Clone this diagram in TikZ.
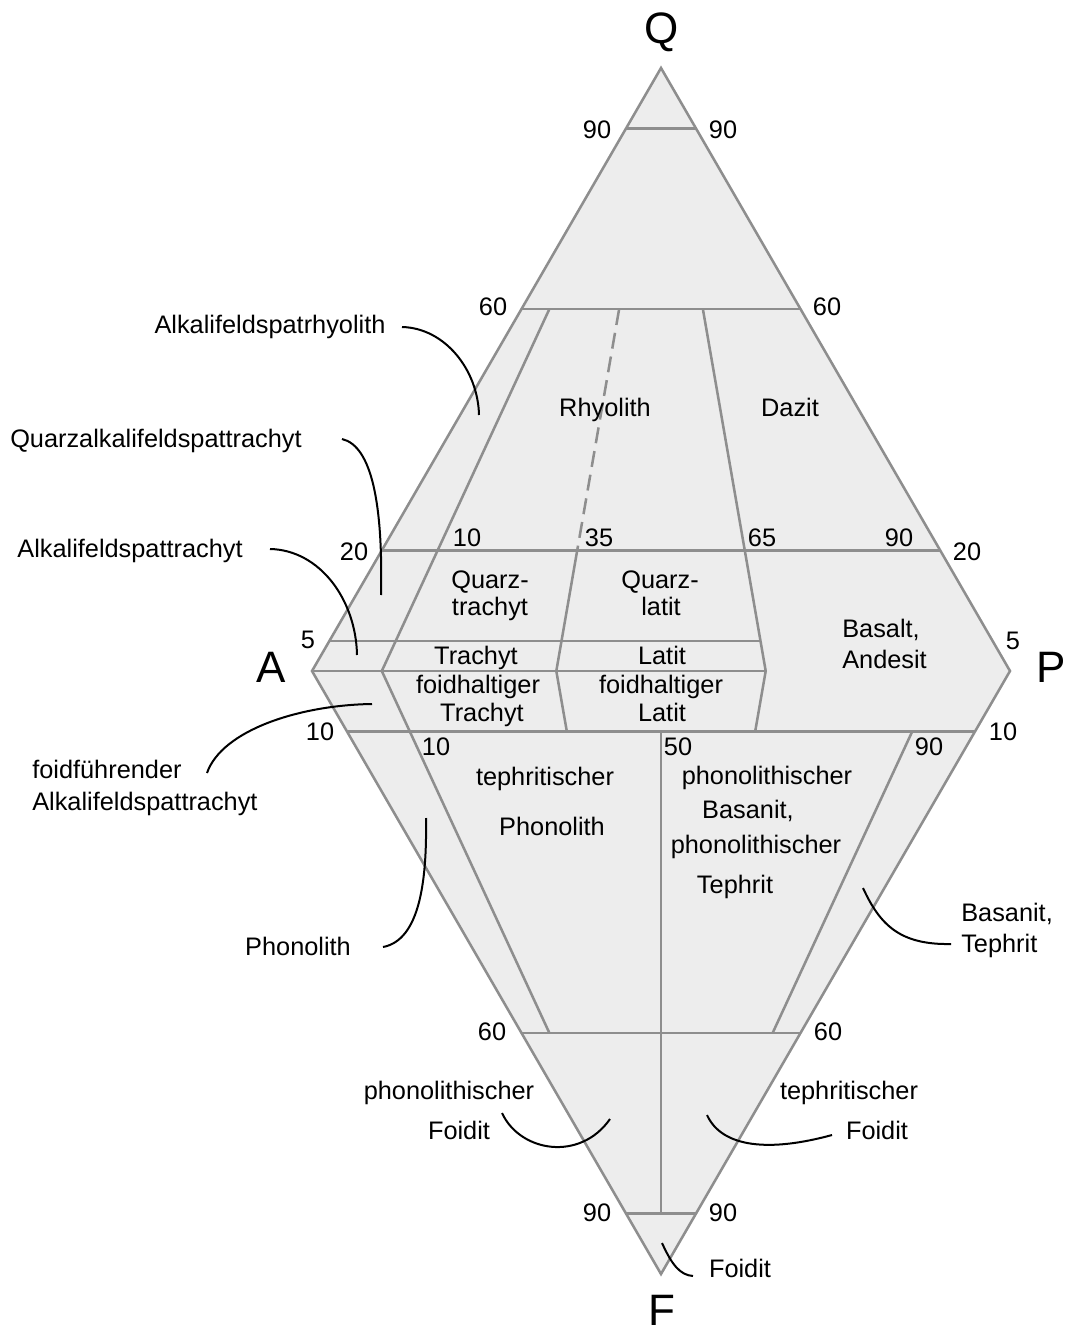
\documentclass[tikz,border=0pt]{standalone}
\usepackage{fontspec}
\setmainfont{Liberation Sans}
\definecolor{fillgray}{HTML}{EDEDED}
\definecolor{linegray}{HTML}{8E8E8E}
\tikzset{
  lbl/.style={font=\fontsize{19}{22}\selectfont, inner sep=0pt, anchor=base},
  big/.style={font=\fontsize{33}{36}\selectfont, inner sep=0pt, anchor=base},
  field/.style={draw=linegray, line width=1.9pt, line join=miter},
  leader/.style={draw=black, line width=1.5pt}
}
\begin{document}
\begin{tikzpicture}[x=0.75pt,y=-0.75pt]
\useasboundingbox (0,0) rectangle (1067,1333);
% corners
\coordinate (Q) at (661,68);
\coordinate (A) at (312,671);
\coordinate (P) at (1010,671);
\coordinate (F) at (661,1274);
% diamond
\filldraw[field, fill=fillgray] (Q) -- (P) -- (F) -- (A) -- cycle;
% horizontal lines
\draw[field] (626.1,128.3) -- (695.9,128.3);
\draw[field] (521.4,309.2) -- (800.6,309.2);
\draw[field] (381.8,550.4) -- (940.2,550.4);
\draw[field] (329.5,640.9) -- (760.5,640.9);
\draw[field] (A) -- (765.7,671);
\draw[field] (346.9,731.3) -- (975.1,731.3);
\draw[field] (521.4,1032.8) -- (800.6,1032.8);
\draw[field] (626.1,1213.7) -- (695.9,1213.7);
% ratio lines
\draw[field] (549.3,309.2) -- (381.8,671) -- (549.3,1032.8);
\draw[field, dash pattern=on 12pt off 6pt] (619.1,309.2) -- (577.2,550.4);
\draw[field] (577.2,550.4) -- (556.3,671) -- (566.8,731.3);
\draw[field] (702.9,309.2) -- (765.7,671) -- (755.2,731.3);
\draw[field] (661,731.3) -- (661,1213.7);
\draw[field] (912.3,731.3) -- (772.7,1032.8);
% corner labels
\node[big] (lQ) at (662,44) {Q};
\node[big] (lA) at (271,682) {A};
\node[big] (lP) at (1051,682) {P};
\node[big] (lF) at (662,1325) {F};
% scale numbers
\node[lbl] (n1) at (597,139) {90};
\node[lbl] (n2) at (723,139) {90};
\node[lbl] (n3) at (493,316) {60};
\node[lbl] (n4) at (827,316) {60};
\node[lbl] (n5) at (354,560) {20};
\node[lbl] (n6) at (967,560) {20};
\node[lbl] (n7) at (308,648) {5};
\node[lbl] (n8) at (1013,649) {5};
\node[lbl] (n9) at (320,740) {10};
\node[lbl] (n10) at (1003,740) {10};
\node[lbl] (n11) at (467,546) {10};
\node[lbl] (n12) at (599,546) {35};
\node[lbl] (n13) at (762,546) {65};
\node[lbl] (n14) at (899,546) {90};
\node[lbl] (n15) at (436,755) {10};
\node[lbl] (n16) at (678,755) {50};
\node[lbl] (n17) at (929,755) {90};
\node[lbl] (n18) at (492,1040) {60};
\node[lbl] (n19) at (828,1040) {60};
\node[lbl] (n20) at (597,1221) {90};
\node[lbl] (n21) at (723,1221) {90};
% field names
\node[lbl] (t1) at (605,416) {Rhyolith};
\node[lbl] (t2) at (790,416) {Dazit};
\node[lbl] (t3a) at (490,588) {Quarz-};
\node[lbl] (t3b) at (490,615) {trachyt};
\node[lbl] (t4a) at (660,588) {Quarz-};
\node[lbl] (t4b) at (661,615) {latit};
\node[lbl] (t5) at (476,664) {Trachyt};
\node[lbl] (t6) at (662,664) {Latit};
\node[lbl] (t7a) at (478,693) {foidhaltiger};
\node[lbl] (t7b) at (482,721) {Trachyt};
\node[lbl] (t8a) at (661,693) {foidhaltiger};
\node[lbl] (t8b) at (662,721) {Latit};
\node[lbl, anchor=base west] (t9a) at (842,637) {Basalt,};
\node[lbl, anchor=base west] (t9b) at (842,668) {Andesit};
\node[lbl] (t10a) at (545,785) {tephritischer};
\node[lbl] (t10b) at (552,835) {Phonolith};
\node[lbl] (t11a) at (767,784) {phonolithischer};
\node[lbl] (t11b) at (748,818) {Basanit,};
\node[lbl] (t11c) at (756,853) {phonolithischer};
\node[lbl] (t11d) at (735,893) {Tephrit};
% outside names
\node[lbl] (o1) at (270,334) {Alkalifeldspatrhyolith};
\node[lbl] (o2) at (156,447) {Quarzalkalifeldspattrachyt};
\node[lbl] (o3) at (130,557) {Alkalifeldspattrachyt};
\node[lbl, anchor=base west] (o4a) at (32,778) {foidführender};
\node[lbl, anchor=base west] (o4b) at (32,810) {Alkalifeldspattrachyt};
\node[lbl] (o5) at (298,955) {Phonolith};
\node[lbl, anchor=base west] (o6a) at (961,921) {Basanit,};
\node[lbl, anchor=base west] (o6b) at (961,952) {Tephrit};
\node[lbl] (o7a) at (449,1099) {phonolithischer};
\node[lbl] (o7b) at (459,1139) {Foidit};
\node[lbl] (o8a) at (849,1099) {tephritischer};
\node[lbl] (o8b) at (877,1139) {Foidit};
\node[lbl] (o9) at (740,1277) {Foidit};
% leaders
\draw[leader] (402,327) .. controls (445,328) and (478,370) .. (479,415);
\draw[leader] (342,439) .. controls (372,446) and (383,505) .. (381,595);
\draw[leader] (270,549) .. controls (320,550) and (356,600) .. (357,655);
\draw[leader] (207,773) .. controls (222,730) and (300,705) .. (372,704);
\draw[leader] (383,947) .. controls (420,940) and (427,880) .. (426,818);
\draw[leader] (951,944) .. controls (900,945) and (880,925) .. (863,888);
\draw[leader] (502,1113) .. controls (520,1152) and (580,1162) .. (610,1119);
\draw[leader] (707,1115) .. controls (722,1148) and (770,1152) .. (832,1135);
\draw[leader] (662,1243) .. controls (672,1265) and (680,1275) .. (693,1276);
\end{tikzpicture}
\end{document}
